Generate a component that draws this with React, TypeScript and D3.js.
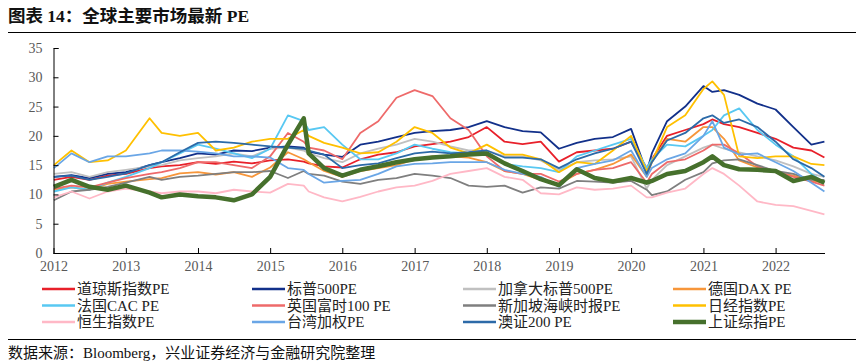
import React, { useRef, useEffect } from "react";
import * as d3 from "d3";

// sample dates (quarterly, plus a few event points)
const dates = [
  "2012-01-03", "2012-04-01", "2012-07-01", "2012-10-01",
  "2013-01-01", "2013-05-01", "2013-07-01", "2013-10-01",
  "2014-01-01", "2014-04-01", "2014-07-01", "2014-10-01",
  "2015-01-01", "2015-04-01", "2015-06-20", "2015-07-15", "2015-10-01",
  "2016-01-01", "2016-04-01", "2016-07-01", "2016-10-01",
  "2017-01-01", "2017-04-01", "2017-07-01", "2017-10-01",
  "2018-01-01", "2018-04-01", "2018-07-01", "2018-10-01",
  "2019-01-01", "2019-04-01", "2019-07-01", "2019-10-01",
  "2020-01-01", "2020-03-20", "2020-04-15", "2020-07-01", "2020-10-01",
  "2021-01-01", "2021-02-15", "2021-04-15", "2021-07-01", "2021-10-01",
  "2022-01-01", "2022-04-01", "2022-07-01", "2022-09-05",
];

const dowPE = [12.5, 13.0, 12.5, 13.2, 13.5, 14.5, 14.8, 15.0, 15.5, 15.2, 15.6, 15.3, 15.8, 16.0, 15.6, 15.3, 14.8, 14.6, 16.0, 16.8, 17.2, 18.2, 18.6, 19.0, 19.8, 21.5, 19.0, 18.6, 19.0, 15.6, 17.2, 17.5, 17.8, 19.0, 14.5, 16.0, 20.0, 21.0, 22.0, 22.8, 22.0, 21.5, 20.5, 19.5, 18.0, 17.5, 16.3];
const spxPE = [13.0, 13.3, 12.8, 13.5, 13.8, 15.0, 15.5, 16.2, 17.0, 16.8, 17.5, 17.4, 18.0, 18.2, 18.0, 17.3, 16.8, 16.4, 18.5, 19.0, 19.8, 20.5, 20.8, 21.0, 21.5, 22.5, 21.5, 20.8, 20.6, 17.8, 18.8, 19.5, 19.8, 21.2, 13.8, 17.0, 22.5, 25.0, 28.5, 27.5, 27.8, 27.0, 25.5, 24.5, 21.5, 18.5, 19.0];
const tsxPE = [13.5, 13.8, 13.0, 13.8, 14.2, 14.8, 15.0, 15.8, 16.2, 16.5, 17.0, 16.5, 17.8, 18.0, 17.5, 17.0, 16.2, 15.5, 17.0, 17.8, 18.5, 19.5, 19.0, 18.2, 17.5, 17.5, 16.5, 16.5, 15.8, 14.2, 15.5, 15.8, 16.0, 16.5, 11.0, 12.5, 15.0, 16.5, 18.0, 18.5, 17.8, 17.2, 16.5, 15.8, 14.8, 13.5, 13.0];
const daxPE = [10.8, 11.2, 10.8, 11.8, 12.2, 12.6, 12.8, 13.6, 13.8, 13.4, 13.8, 13.0, 14.6, 17.2, 16.0, 15.5, 14.0, 13.0, 14.0, 14.5, 15.0, 16.0, 16.5, 16.5, 16.3, 15.5, 14.0, 13.5, 12.5, 11.8, 13.5, 14.2, 15.2, 16.8, 13.0, 15.5, 19.5, 19.0, 21.5, 21.5, 19.5, 15.8, 14.6, 13.8, 13.2, 12.3, 12.0];
const cacPE = [10.5, 11.2, 10.8, 12.0, 13.0, 14.5, 15.5, 17.0, 18.5, 17.8, 17.0, 16.2, 17.8, 23.5, 22.5, 21.0, 21.5, 18.5, 16.0, 16.0, 17.0, 18.5, 17.8, 17.2, 17.0, 17.0, 15.2, 14.8, 14.5, 13.8, 16.5, 17.5, 18.5, 19.5, 14.5, 16.0, 18.5, 18.2, 20.0, 21.0, 23.5, 24.7, 21.0, 18.5, 16.5, 13.5, 12.0];
const ftsePE = [11.0, 11.5, 11.2, 12.0, 12.8, 13.5, 13.8, 14.5, 15.5, 15.5, 15.0, 14.5, 16.5, 20.5, 19.0, 18.0, 17.5, 16.0, 20.5, 22.5, 26.5, 27.8, 26.8, 23.0, 21.0, 16.5, 14.0, 13.5, 13.5, 12.2, 13.5, 14.2, 14.5, 15.5, 12.0, 13.5, 15.5, 16.0, 17.5, 18.5, 18.5, 17.0, 14.8, 14.0, 13.0, 12.2, 11.5];
const stiPE = [9.0, 10.5, 10.8, 11.3, 12.0, 13.0, 12.5, 13.0, 13.2, 13.5, 13.8, 13.8, 14.0, 12.8, 14.0, 13.5, 13.2, 12.2, 11.8, 12.5, 12.8, 13.5, 13.2, 12.8, 11.5, 11.3, 11.5, 10.3, 11.2, 11.0, 12.3, 12.2, 12.0, 12.3, 10.8, 9.9, 10.5, 12.5, 13.8, 15.3, 15.8, 16.0, 15.0, 14.0, 13.5, 12.5, 12.5];
const nikkeiPE = [15.0, 17.5, 15.5, 15.8, 17.5, 23.0, 20.5, 20.0, 20.5, 17.5, 18.0, 19.0, 19.5, 19.5, 21.0, 20.0, 18.8, 18.0, 17.0, 17.2, 19.0, 21.5, 20.5, 18.0, 17.0, 18.5, 16.8, 16.8, 16.0, 13.8, 15.5, 15.2, 17.5, 20.0, 14.0, 15.5, 21.5, 23.5, 28.0, 29.3, 27.0, 16.5, 16.2, 16.5, 16.5, 15.2, 15.0];
const hsiPE = [9.5, 10.5, 9.3, 10.5, 11.0, 10.5, 10.2, 10.5, 10.5, 10.2, 10.8, 10.5, 10.3, 11.8, 11.5, 10.5, 9.5, 8.8, 9.6, 10.5, 11.2, 11.5, 12.3, 13.5, 14.0, 14.5, 13.0, 12.5, 10.2, 10.0, 11.2, 10.8, 11.0, 11.5, 9.5, 9.5, 10.3, 11.0, 13.5, 14.5, 13.5, 11.5, 8.8, 8.2, 8.0, 7.2, 6.6];
const twsePE = [14.5, 17.0, 15.5, 16.5, 16.5, 17.0, 17.5, 17.5, 17.3, 17.0, 16.5, 16.5, 16.3, 14.5, 14.2, 13.5, 12.0, 12.3, 12.5, 13.5, 14.8, 15.2, 15.3, 15.5, 15.5, 15.5, 14.2, 13.5, 13.0, 11.3, 14.5, 15.2, 15.8, 17.5, 13.0, 14.5, 16.0, 17.0, 20.0, 22.5, 18.0, 16.8, 17.0, 15.5, 14.0, 12.0, 10.5];
const asxPE = [13.0, 13.2, 12.5, 13.0, 13.6, 15.0, 15.5, 17.2, 18.8, 19.0, 18.8, 18.5, 18.2, 18.0, 17.8, 17.5, 16.8, 14.5, 15.0, 15.3, 16.2, 17.0, 17.3, 17.0, 17.2, 17.5, 16.3, 16.3, 16.0, 14.5, 16.0, 17.0, 17.8, 19.0, 13.5, 15.5, 19.2, 20.5, 23.0, 23.5, 22.2, 22.8, 21.5, 19.0, 16.0, 14.5, 13.0];
const shcompPE = [11.3, 12.5, 11.3, 10.8, 11.5, 10.3, 9.5, 10.0, 9.7, 9.5, 9.0, 10.0, 13.0, 18.5, 23.0, 17.0, 14.5, 13.2, 14.2, 14.8, 15.5, 16.0, 16.3, 16.5, 16.8, 17.0, 15.3, 14.0, 12.6, 11.6, 14.3, 12.8, 12.2, 12.8, 12.0, 12.3, 13.5, 14.0, 15.5, 16.5, 15.0, 14.3, 14.2, 14.0, 12.3, 13.0, 12.0];

const yTicks = [0, 5, 10, 15, 20, 25, 30, 35];
const yearTicks = ["2012", "2013", "2014", "2015", "2016", "2017", "2018", "2019", "2020", "2021", "2022"];

const series = [
  { name: "道琼斯指数PE", values: dowPE, color: "#E8202A", w: 1.8 },
  { name: "标普500PE", values: spxPE, color: "#12308A", w: 1.8 },
  { name: "加拿大标普500PE", values: tsxPE, color: "#C0C0C0", w: 1.8 },
  { name: "德国DAX PE", values: daxPE, color: "#F7963A", w: 1.8 },
  { name: "法国CAC PE", values: cacPE, color: "#58C8F2", w: 1.8 },
  { name: "英国富时100 PE", values: ftsePE, color: "#EE6A6A", w: 1.8 },
  { name: "新加坡海峡时报PE", values: stiPE, color: "#7F7F7F", w: 1.8 },
  { name: "日经指数PE", values: nikkeiPE, color: "#FFC000", w: 1.8 },
  { name: "恒生指数PE", values: hsiPE, color: "#FFB8C6", w: 1.8 },
  { name: "台湾加权PE", values: twsePE, color: "#6AA6E6", w: 1.8 },
  { name: "澳证200 PE", values: asxPE, color: "#2C6AA8", w: 1.8 },
  { name: "上证综指PE", values: shcompPE, color: "#46702C", w: 4.5 },
];

const FONT = "'Liberation Serif', 'Noto Sans CJK SC', serif";

const App = () => {
  const svgRef = useRef(null);

  useEffect(() => {
    const svg = d3.select(svgRef.current);
    svg.selectAll("*").remove();

    const parse = d3.timeParse("%Y-%m-%d");
    const t = dates.map((d) => parse(d));

    const x = d3
      .scaleTime()
      .domain([new Date(2012, 0, 1), new Date(2022, 8, 8)])
      .range([53.5, 825]);
    const y = d3.scaleLinear().domain([0, 35]).range([253, 48]);

    svg.append("rect").attr("width", 863).attr("height", 364).attr("fill", "#fff");

    // title + rules
    svg.append("text")
      .attr("x", 8)
      .attr("y", 22)
      .attr("font-family", FONT)
      .attr("font-size", 17.5)
      .attr("font-weight", "bold")
      .attr("fill", "#111")
      .text("图表 14：全球主要市场最新 PE");
    svg.append("line").attr("x1", 8).attr("x2", 856).attr("y1", 32.5).attr("y2", 32.5)
      .attr("stroke", "#000").attr("stroke-width", 1.2);
    svg.append("line").attr("x1", 8).attr("x2", 856).attr("y1", 339.5).attr("y2", 339.5)
      .attr("stroke", "#000").attr("stroke-width", 1.2);
    svg.append("text")
      .attr("x", 8)
      .attr("y", 357.5)
      .attr("font-family", FONT)
      .attr("font-size", 15)
      .attr("fill", "#111")
      .text("数据来源：Bloomberg，兴业证券经济与金融研究院整理");

    // lines
    const line = d3
      .line()
      .x((d) => x(d[0]))
      .y((d) => y(d[1]));

    series.forEach((s) => {
      svg.append("path")
        .datum(t.map((d, i) => [d, s.values[i]]))
        .attr("fill", "none")
        .attr("stroke", s.color)
        .attr("stroke-width", s.w)
        .attr("stroke-linejoin", "round")
        .attr("d", line);
    });

    // y axis
    const yAxis = d3.axisLeft(y).tickValues(yTicks).tickSize(-5).tickPadding(11);
    const gy = svg.append("g").attr("transform", "translate(53.5,0)").call(yAxis);
    gy.select(".domain").attr("stroke", "#000");
    gy.selectAll("line").attr("stroke", "#000");
    gy.selectAll("text")
      .attr("fill", "#595959")
      .attr("font-size", 14)
      .attr("font-family", FONT);

    // x axis
    const yearDates = yearTicks.map((yr) => new Date(+yr, 0, 1));
    const xAxis = d3
      .axisBottom(x)
      .tickValues(yearDates)
      .tickSize(-5)
      .tickPadding(8)
      .tickFormat(d3.timeFormat("%Y"));
    const gx = svg.append("g").attr("transform", "translate(0,253)").call(xAxis);
    gx.select(".domain").attr("stroke", "#000").attr("d", "M53.5,0.5H825");
    gx.selectAll("line").attr("stroke", "#000");
    gx.selectAll("text")
      .attr("fill", "#595959")
      .attr("font-size", 14)
      .attr("font-family", FONT);

    // legend
    const colX = [42, 252, 463, 673];
    const rowY = [289, 305.5, 322];
    const lg = svg.append("g");
    series.forEach((s, i) => {
      const cx = colX[i % 4];
      const cy = rowY[Math.floor(i / 4)];
      lg.append("line")
        .attr("x1", cx)
        .attr("x2", cx + 33)
        .attr("y1", cy)
        .attr("y2", cy)
        .attr("stroke", s.color)
        .attr("stroke-width", s.w > 3 ? 4.5 : 2.5);
      lg.append("text")
        .attr("x", cx + 35)
        .attr("y", cy + 5)
        .attr("font-family", FONT)
        .attr("font-size", 15)
        .attr("fill", "#222")
        .text(s.name);
    });
  }, []);

  return (
    <div style={{ position: "absolute", left: 0, top: 0, width: 863, height: 364 }}>
      <svg ref={svgRef} width={863} height={364} />
    </div>
  );
};

export default App;
